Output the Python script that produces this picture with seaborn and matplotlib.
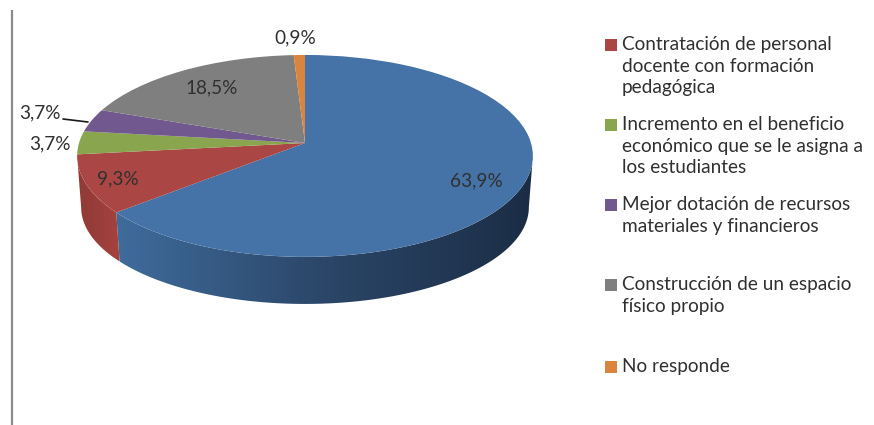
"""Pie chart with 3D look: perspective top face plus an extruded front wall."""
import numpy as np
import matplotlib
matplotlib.use("Agg")
import matplotlib.pyplot as plt
from matplotlib.colors import LinearSegmentedColormap
from matplotlib.patches import Polygon
from matplotlib.transforms import Transform
import seaborn as sns

# Blue slice has no legend entry in the source chart
values = [63.9, 9.3, 3.7, 3.7, 18.5, 0.9]
value_labels = ["63,9%", "9,3%", "3,7%", "3,7%", "18,5%", "0,9%"]
slice_colors = ["#4573A7", "#AA4643", "#89A54E", "#71588F", "#7F7F7F", "#DB843D"]
wall_left = ["#3F6C9C", "#8F3A36", "#6E843E", "#5A4672", "#666666", "#AF6A31"]
wall_mid = ["#2B4668", "#9A3E3A", "#6E843E", "#5A4672", "#666666", "#AF6A31"]
wall_right = ["#1B2D45", "#A5423E", "#6E843E", "#5A4672", "#666666", "#AF6A31"]

legend_labels = [
    "Contratación de personal\ndocente con formación\npedagógica",
    "Incremento en el beneficio\neconómico que se le asigna a\nlos estudiantes",
    "Mejor dotación de recursos\nmateriales y financieros",
    "Construcción de un espacio\nfísico propio",
    "No responde",
]
legend_colors = slice_colors[1:]

# pixel layout, text only
label_pos = [(476, 181), (118, 179), (50, 144), (40, 113), (212, 88), (295, 38)]
legend_y = [45, 125, 205, 285, 367]


class Perspective(Transform):
    """Maps the unit pie circle onto a tilted disc, in pixel coordinates."""
    input_dims = 2
    output_dims = 2
    is_separable = False
    has_inverse = False

    def __init__(self, cx, cy, rx, ry, tilt=0.128):
        super().__init__()
        self.cx, self.cy, self.rx, self.ry, self.tilt = cx, cy, rx, ry, tilt

    def transform_non_affine(self, values):
        values = np.asarray(values, dtype=float)
        w = 1 + self.tilt * values[:, 1]
        return np.column_stack([
            self.cx + self.rx * values[:, 0] / w,
            self.cy - self.ry * values[:, 1] / w,
        ])


sns.set_theme(style="white")
plt.rcParams["font.family"] = ["Lato", "DejaVu Sans"]
TEXT = "#303030"

fig = plt.figure(figsize=(8.74, 4.25), dpi=100)
ax = fig.add_axes([0, 0, 1, 1])
palette = sns.color_palette(slice_colors)

wedges, _ = ax.pie(values, colors=palette, startangle=90, counterclock=False,
                   radius=1, wedgeprops={"linewidth": 0})
top = Perspective(305, 143, 226, 99.3)
bottom = Perspective(305, 195, 222, 95)
for wedge in wedges:
    wedge.set_transform(top + ax.transData)
    wedge.set_zorder(3)

# Front wall, only the part of each slice between the two side extremes
VIS_START, VIS_END = 97.4, 262.6
edges = np.concatenate([[0], np.cumsum(values)]) / sum(values) * 360
for i in range(len(values)):
    start, end = max(edges[i], VIS_START), min(edges[i + 1], VIS_END)
    if end <= start:
        continue
    t = np.radians(np.linspace(start, end, 80))
    circle = np.column_stack([np.sin(t), np.cos(t)])
    outline = np.vstack([top.transform(circle), bottom.transform(circle)[::-1]])
    x0, x1 = outline[:, 0].min(), outline[:, 0].max()
    y0, y1 = outline[:, 1].min(), outline[:, 1].max()
    cmap = LinearSegmentedColormap.from_list(f"wall{i}", [wall_left[i], wall_mid[i], wall_right[i]])
    img = ax.imshow(np.linspace(0, 1, 256)[None, :], cmap=cmap, aspect="auto",
                    extent=(x0, x1, y1, y0), zorder=2, vmin=0, vmax=1)
    patch = Polygon(outline, closed=True, transform=ax.transData,
                    facecolor="none", edgecolor="none")
    ax.add_patch(patch)
    img.set_clip_path(patch)

ax.set_aspect("auto")
ax.set_xlim(0, 874)
ax.set_ylim(425, 0)
ax.set_axis_off()
ax.set_frame_on(False)

for (x, y), text in zip(label_pos, value_labels):
    ax.text(x, y, text, ha="center", va="center", fontsize=13.7, color=TEXT, zorder=5)
ax.plot([63, 88], [119, 122], color="#1a1a1a", lw=1.2, zorder=5)

# Legend, hand placed because the row gaps are uneven
for y, text, color in zip(legend_y, legend_labels, legend_colors):
    ax.scatter([611], [y], marker="s", s=70, color=color, linewidths=0, zorder=5)
    ax.text(622, y - 9, text, ha="left", va="top", fontsize=13.7, color=TEXT,
            linespacing=1.33, zorder=5)

# Stray rule on the left edge of the source image
ax.plot([12, 12], [10, 425], color="#8c8c8c", lw=1.6, solid_capstyle="butt")

fig.savefig("out.png", dpi=100)
